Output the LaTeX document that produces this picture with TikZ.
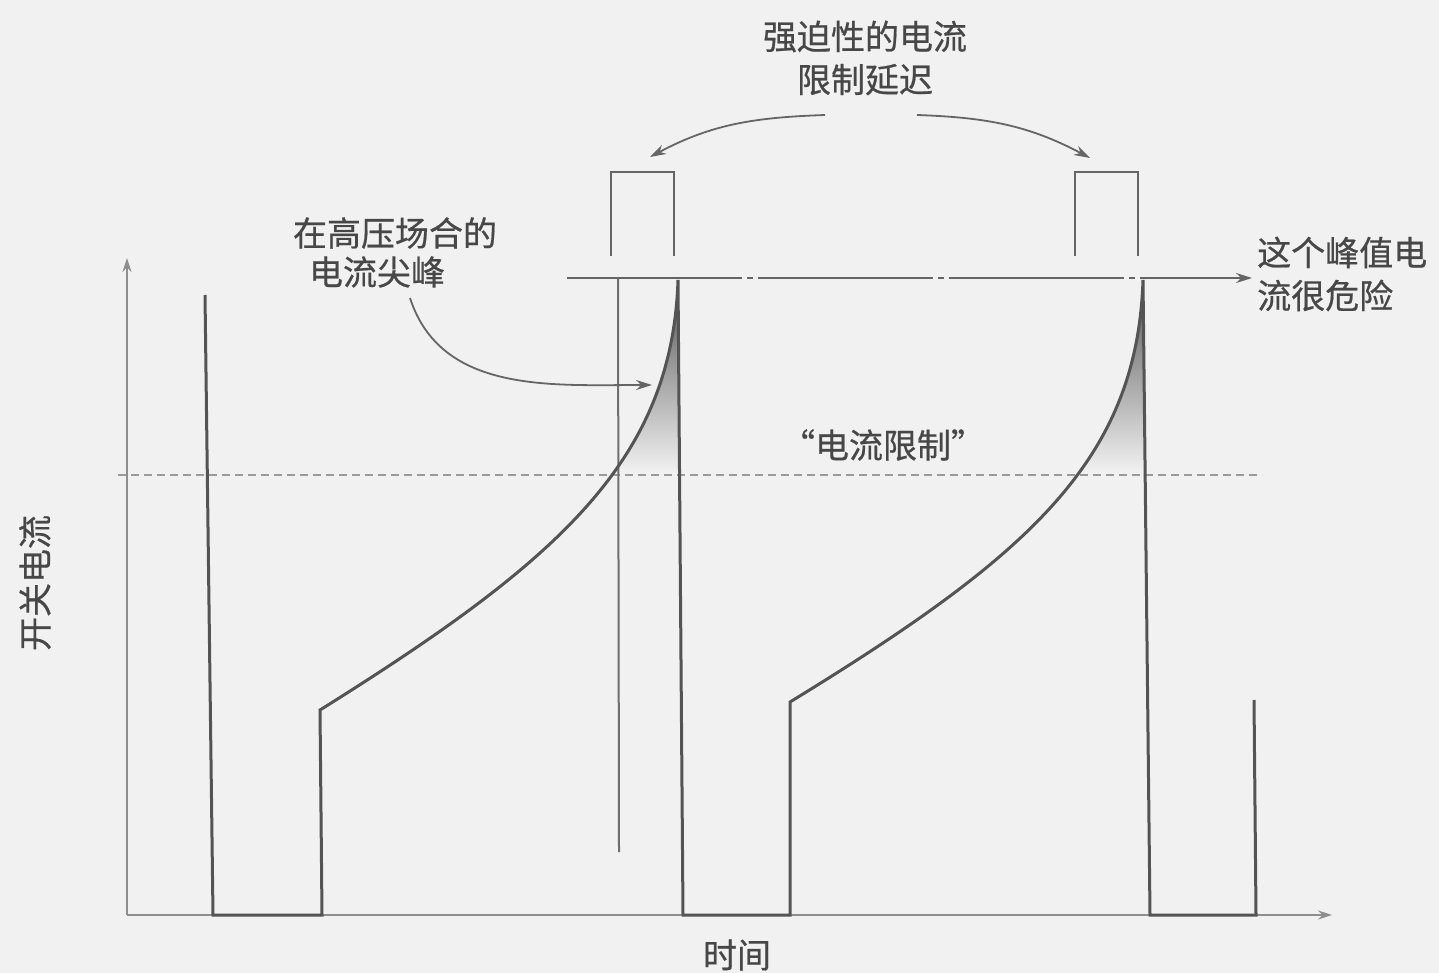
\documentclass[tikz,border=0pt]{standalone}
\usepackage{fontspec}
\newfontfamily\cjk[FakeBold=0.6]{Noto Sans CJK SC}
\usetikzlibrary{arrows.meta}
\definecolor{paper}{HTML}{F1F1F1}
\definecolor{ink}{HTML}{545454}
\definecolor{txt}{HTML}{474747}
\definecolor{axiscol}{HTML}{8E8E8E}
\definecolor{dashcol}{HTML}{9A9A9A}
\begin{document}
\begin{tikzpicture}[x=1pt,y=-1pt,
  lbl/.style={font=\cjk\fontsize{34}{43}\selectfont, text=txt, inner sep=0pt},
  wave/.style={draw=ink, line width=3pt, line join=miter},
  axisline/.style={draw=axiscol, line width=1.6pt, -{Stealth[length=14pt,width=9pt]}},
  pulse/.style={draw=ink!90, line width=2.6pt},
  thinline/.style={draw=ink!85, line width=2pt},
  arr/.style={draw=ink!90, line width=1.8pt, -{Stealth[length=16pt,width=10pt]}},
  limitline/.style={draw=dashcol, line width=1.3pt, dash pattern=on 8pt off 5pt},
  peakline/.style={draw=ink!90, line width=2pt, dash pattern=on 175pt off 5pt on 6pt off 5pt, -{Stealth[length=16pt,width=10pt]}},
]
\fill[paper] (0,0) rectangle (1439,973);
\useasboundingbox (0,0) rectangle (1439,973);

% axes
\coordinate (origin) at (127,915);
\coordinate (ytip) at (127,258);
\coordinate (xtip) at (1332,915);
\draw[axisline] (origin) -- (ytip);
\draw[axisline] (origin) -- (xtip);

% current limit dashed line
\coordinate (limA) at (118,475);
\coordinate (limB) at (1262,475);
\draw[limitline] (limA) -- (limB);

% shaded spikes
\begin{scope}
  \clip (320,710) .. controls (560,560) and (672,460) .. (678,280) -- (683,915) -- (320,915) -- cycle;
  \shade[top color=ink, bottom color=paper] (590,282) rectangle (690,472);
\end{scope}
\begin{scope}
  \clip (790,702) .. controls (1030,555) and (1137,460) .. (1143,280) -- (1150,915) -- (790,915) -- cycle;
  \shade[top color=ink, bottom color=paper] (1050,282) rectangle (1155,472);
\end{scope}

% thin vertical marker
\coordinate (mkTop) at (618,278);
\coordinate (mkBot) at (619,852);
\draw[thinline] (mkTop) -- (mkBot);

% waveform
\draw[wave] (205,295) -- (213,915) -- (322,915) -- (320,710)
  .. controls (560,560) and (672,460) .. (678,280)
  -- (683,915) -- (790,915) -- (790,702)
  .. controls (1030,555) and (1137,460) .. (1143,280)
  -- (1150,915) -- (1256,915) -- (1254,700);

% peak dash-dot line
\coordinate (pkA) at (567,278);
\coordinate (pkB) at (1252,278);
\draw[peakline] (pkA) -- (pkB);

% forced delay pulses
\draw[pulse] (611,256) -- (611,172) -- (674,172) -- (674,256);
\draw[pulse] (1075,256) -- (1075,172) -- (1138,172) -- (1138,256);

% labels
\node[lbl, align=center] (delay) at (865,58) {强迫性的电流\\限制延迟};
\node[lbl] (spikeA) at (395,233) {在高压场合的};
\node[lbl] (spikeB) at (377,272) {电流尖峰};
\node[lbl, anchor=west, align=left] (danger) at (1257,274) {这个峰值电\\流很危险};
\node[lbl] (limit) at (883,445) {“电流限制”};
\node[lbl] (xlab) at (737,955) {时间};
\node[lbl, rotate=90] (ylab) at (35,583) {开关电流};

% arrows
\coordinate (dL) at (825,115);
\coordinate (dR) at (917,115);
\coordinate (dLt) at (650,157);
\coordinate (dRt) at (1090,158);
\draw[arr] (dL) to[out=182,in=28] (dLt);
\draw[arr] (dR) to[out=-2,in=152] (dRt);
\coordinate (sS) at (410,298);
\coordinate (sT) at (652,385);
\draw[arr] (sS) to[out=-72,in=180] (sT);
\end{tikzpicture}
\end{document}
